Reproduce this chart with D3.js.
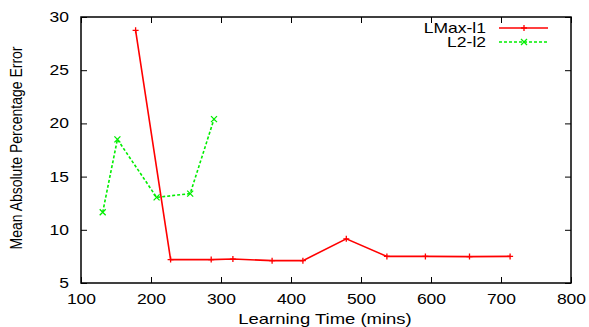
<!doctype html>
<html lang="en">
<head>
    <meta charset="utf-8">
    <title>Learning time vs error</title>
    <script src="https://d3js.org/d3.v7.min.js"></script>
    <style>
        body { margin: 0; padding: 0; background: white; }
        svg { display: block; font-family: 'Liberation Sans', Arial, sans-serif; }
        .tick text { font-size: 14px; fill: black; }
        /* the original text looks stretched sideways */
        .wide { transform-box: fill-box; transform: scaleX(1.25); }
        .wide-end { transform-origin: right center; }
        .wide-mid { transform-origin: center; }
    </style>
</head>
<body>
    <div class="home"></div>
    <script>
        // data
        const lmaxTime = [178, 228, 286, 317, 373, 417, 479, 537, 592, 655, 713];
        const lmaxErr = [28.75, 7.2, 7.2, 7.25, 7.1, 7.1, 9.15, 7.5, 7.5, 7.48, 7.5];
        const l2Time = [131, 152, 208, 256, 290];
        const l2Err = [11.65, 18.5, 13.05, 13.4, 20.4];
        const xTicks = [100, 200, 300, 400, 500, 600, 700, 800];
        const yTicks = [5, 10, 15, 20, 25, 30];

        const width = 589, height = 327;
        const margin = {left: 81, right: 18, top: 17, bottom: 44};

        const svg = d3.select(".home").append("svg")
            .attr("width", width)
            .attr("height", height);

        const x = d3.scaleLinear().domain([100, 800]).range([margin.left, width - margin.right]);
        const y = d3.scaleLinear().domain([5, 30]).range([height - margin.bottom, margin.top]);

        // axes, ticks pointing inward like gnuplot
        svg.append("g")
            .attr("transform", `translate(0,${y(5)})`)
            .call(d3.axisBottom(x).tickValues(xTicks).tickSize(-6).tickPadding(11))
            .call(g => g.select(".domain").remove())
            .selectAll("text").attr("class", "wide wide-mid");
        svg.append("g")
            .attr("transform", `translate(0,${y(30)})`)
            .call(d3.axisTop(x).tickValues(xTicks).tickSize(-6).tickFormat(""))
            .call(g => g.select(".domain").remove());
        svg.append("g")
            .attr("transform", `translate(${x(100)},0)`)
            .call(d3.axisLeft(y).tickValues(yTicks).tickSize(-6).tickPadding(12))
            .call(g => g.select(".domain").remove())
            .selectAll("text").attr("class", "wide wide-end");
        svg.append("g")
            .attr("transform", `translate(${x(800)},0)`)
            .call(d3.axisRight(y).tickValues(yTicks).tickSize(-6).tickFormat(""))
            .call(g => g.select(".domain").remove());
        svg.selectAll(".tick line").attr("stroke", "black").attr("stroke-width", 1);

        // frame
        svg.append("rect")
            .attr("x", x(100)).attr("y", y(30))
            .attr("width", x(800) - x(100)).attr("height", y(5) - y(30))
            .attr("fill", "none").attr("stroke", "black").attr("stroke-width", 1.5);

        const line = d3.line().x(d => x(d[0])).y(d => y(d[1]));
        const lmax = d3.zip(lmaxTime, lmaxErr);
        const l2 = d3.zip(l2Time, l2Err);

        // series lines
        svg.append("path").datum(lmax).attr("d", line)
            .attr("fill", "none").attr("stroke", "#ff0000").attr("stroke-width", 1.6);
        svg.append("path").datum(l2).attr("d", line)
            .attr("fill", "none").attr("stroke", "#00ee00").attr("stroke-width", 1.6)
            .attr("stroke-dasharray", "3,2");

        // markers
        const plus = "M-3,0H3M0,-3V3";
        const cross = "M-3,-3L3,3M-3,3L3,-3";
        svg.selectAll(".pt-red").data(lmax).enter().append("path")
            .attr("transform", d => `translate(${x(d[0])},${y(d[1])})`)
            .attr("d", plus).attr("stroke", "#ff0000").attr("stroke-width", 1.3);
        svg.selectAll(".pt-green").data(l2).enter().append("path")
            .attr("transform", d => `translate(${x(d[0])},${y(d[1])})`)
            .attr("d", cross).attr("stroke", "#00ee00").attr("stroke-width", 1.3);

        // legend
        const legend = [
            {name: "LMax-l1", color: "#ff0000", dash: null, mark: plus, y: 28},
            {name: "L2-l2", color: "#00ee00", dash: "3,2", mark: cross, y: 42}
        ];
        legend.forEach(l => {
            svg.append("text").attr("x", 486).attr("y", l.y + 5)
                .attr("class", "wide wide-end")
                .attr("text-anchor", "end").attr("font-size", 14).text(l.name);
            svg.append("line").attr("x1", 499).attr("x2", 548).attr("y1", l.y).attr("y2", l.y)
                .attr("stroke", l.color).attr("stroke-width", 1.6).attr("stroke-dasharray", l.dash);
            svg.append("path").attr("transform", `translate(524,${l.y})`)
                .attr("d", l.mark).attr("stroke", l.color).attr("stroke-width", 1.3);
        });

        // axis titles
        svg.append("text")
            .attr("x", 325).attr("y", 324)
            .attr("class", "wide wide-mid")
            .style("transform", "scaleX(1.32)")
            .attr("text-anchor", "middle").attr("font-size", 14)
            .text("Learning Time (mins)");
        svg.append("text")
            .attr("transform", `translate(22,148) rotate(-90) scale(1,1.2)`)
            .attr("text-anchor", "middle").attr("font-size", 14)
            .text("Mean Absolute Percentage Error");
    </script>
</body>
</html>
